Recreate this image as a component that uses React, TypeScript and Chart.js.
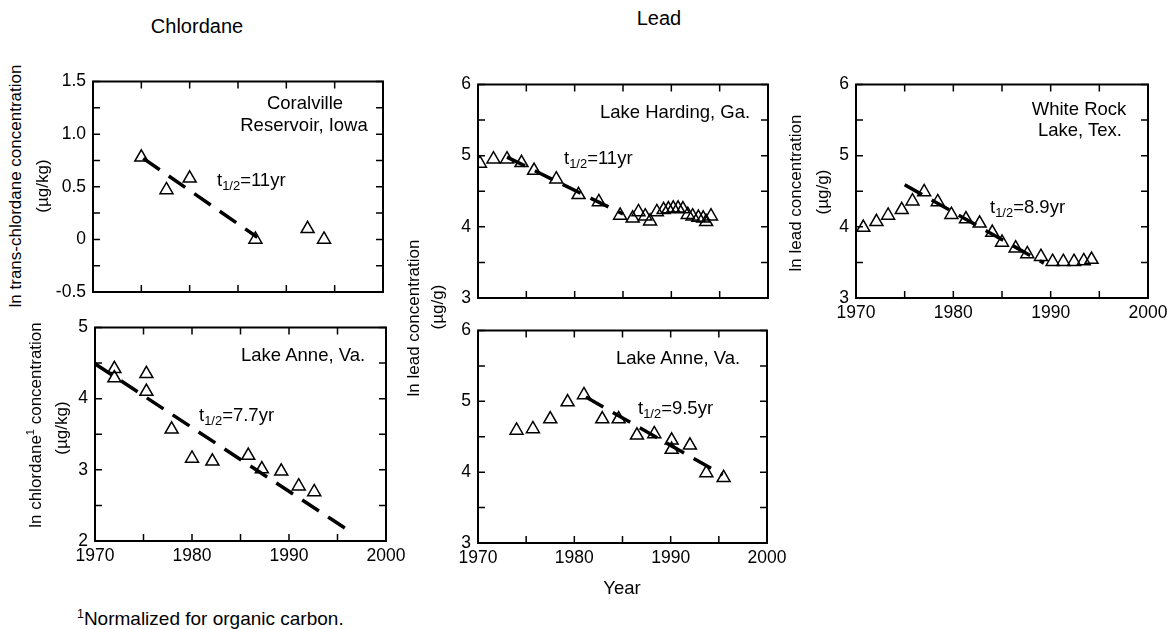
import React, { useEffect, useRef } from 'react';
import { Chart, registerables } from 'chart.js';

Chart.register(...registerables);

const FONT = '"Liberation Sans", Arial, Helvetica, sans-serif';

// ---- Chlordane: Coralville Reservoir, Iowa ----
const coralYears = [1975.0, 1977.6, 1980.0, 1986.8, 1992.2, 1993.9];
const coralValues = [0.78, 0.47, 0.58, 0.0, 0.1, 0.0];
const coralTrendYears = [1975.2, 1987.0];
const coralTrendValues = [0.77, 0.02];

// ---- Chlordane: Lake Anne, Va. ----
const anneChlYears = [1972.0, 1972.0, 1975.3, 1975.3, 1977.9, 1980.0, 1982.1, 1985.8, 1987.2, 1989.2, 1991.0, 1992.6];
const anneChlValues = [4.42, 4.29, 4.35, 4.1, 3.57, 3.16, 3.12, 3.2, 3.01, 2.98, 2.77, 2.69];
const anneChlTrendYears = [1970.0, 1996.0];
const anneChlTrendValues = [4.49, 2.16];

// ---- Lead: Lake Harding, Ga. ----
const hardingYears = [1970.2, 1971.6, 1973.0, 1974.5, 1975.8, 1978.1, 1980.4, 1982.5, 1984.7, 1986.0, 1986.6, 1987.3, 1987.8, 1988.5, 1989.2, 1989.7, 1990.2, 1990.7, 1991.2, 1991.7, 1992.2, 1992.8, 1993.3, 1993.6, 1994.1];
const hardingValues = [4.89, 4.95, 4.95, 4.9, 4.79, 4.67, 4.45, 4.35, 4.16, 4.12, 4.21, 4.15, 4.08, 4.21, 4.24, 4.25, 4.26, 4.26, 4.25, 4.17, 4.15, 4.13, 4.12, 4.07, 4.15];
const hardingTrendYears = [1973.0, 1985.0];
const hardingTrendValues = [4.98, 4.18];

// ---- Lead: Lake Anne, Va. ----
const anneLeadYears = [1974.0, 1975.7, 1977.5, 1979.3, 1981.0, 1982.9, 1984.6, 1986.5, 1988.3, 1990.1, 1990.1, 1992.0, 1993.7, 1995.5];
const anneLeadValues = [4.59, 4.61, 4.75, 4.99, 5.09, 4.75, 4.75, 4.52, 4.54, 4.45, 4.32, 4.38, 3.99, 3.92];
const anneLeadTrendYears = [1981.2, 1995.4];
const anneLeadTrendValues = [5.06, 3.96];

// ---- Lead: White Rock Lake, Tex. ----
const whiteRockYears = [1970.75, 1972.1, 1973.3, 1974.7, 1975.8, 1977.0, 1978.4, 1979.8, 1981.3, 1982.7, 1984.0, 1985.0, 1986.4, 1987.6, 1989.0, 1990.2, 1991.3, 1992.4, 1993.4, 1994.2];
const whiteRockValues = [3.99, 4.07, 4.16, 4.24, 4.36, 4.49, 4.35, 4.17, 4.11, 4.05, 3.92, 3.78, 3.7, 3.62, 3.58, 3.51, 3.51, 3.51, 3.52, 3.54];
const whiteRockTrendYears = [1975.0, 1989.3];
const whiteRockTrendValues = [4.59, 3.49];

// ---- Axis ticks ----
const yearLabelTicks = [1970, 1980, 1990, 2000];
const yearTickMarks = [1970, 1975, 1980, 1985, 1990, 1995, 2000];
const chlTopLabelTicks = [-0.5, 0, 0.5, 1.0, 1.5];
const chlTopTickMarks = [-0.5, -0.25, 0, 0.25, 0.5, 0.75, 1.0, 1.25, 1.5];
const chlBottomLabelTicks = [2, 3, 4, 5];
const chlBottomTickMarks = [2, 2.5, 3, 3.5, 4, 4.5, 5];
const leadLabelTicks = [3, 4, 5, 6];
const leadTickMarks = [3, 3.5, 4, 4.5, 5, 5.5, 6];

const YW = 50;
const PT = 15;
const PR = 30;
const XH = 30;
const PB = 4;
const TICK_LEN = 7;

const framePlugin = {
  id: 'frame',
  afterDatasetsDraw(chart: any, _args: any, opts: any) {
    const { ctx, chartArea: a, scales } = chart;
    const xs = scales.x;
    const ys = scales.y;
    ctx.save();
    ctx.strokeStyle = '#000';
    ctx.lineWidth = 1.5;
    ctx.beginPath();
    for (const v of opts.xMarks || []) {
      const px = xs.getPixelForValue(v);
      ctx.moveTo(px, a.bottom);
      ctx.lineTo(px, a.bottom - TICK_LEN);
      ctx.moveTo(px, a.top);
      ctx.lineTo(px, a.top + TICK_LEN);
    }
    for (const v of opts.yMarks || []) {
      const py = ys.getPixelForValue(v);
      ctx.moveTo(a.left, py);
      ctx.lineTo(a.left + TICK_LEN, py);
      ctx.moveTo(a.right, py);
      ctx.lineTo(a.right - TICK_LEN, py);
    }
    ctx.stroke();
    ctx.lineWidth = 2;
    ctx.strokeRect(a.left, a.top, a.right - a.left, a.bottom - a.top);
    ctx.restore();
  },
};

type PanelProps = {
  left: number;
  top: number;
  width: number;
  height: number;
  years: number[];
  values: number[];
  trendYears: number[];
  trendValues: number[];
  yMin: number;
  yMax: number;
  yLabels: number[];
  yMarks: number[];
  showX: boolean;
  decimals: boolean;
};

function Panel(p: PanelProps) {
  const ref = useRef<HTMLCanvasElement | null>(null);
  const cw = p.width + YW + PR;
  const ch = p.height + PT + XH + PB;

  useEffect(() => {
    if (!ref.current) return;
    const tickFont = { family: FONT, size: 17.5 };
    const chart = new Chart(ref.current, {
      type: 'scatter',
      data: {
        datasets: [
          {
            type: 'line',
            data: p.trendYears.map((x, i) => ({ x, y: p.trendValues[i] })),
            borderColor: '#000',
            borderWidth: 3.5,
            borderDash: [20, 11],
            pointRadius: 0,
            fill: false,
            tension: 0,
          } as any,
          {
            type: 'scatter',
            data: p.years.map((x, i) => ({ x, y: p.values[i] })),
            pointStyle: 'triangle',
            pointRadius: 7.5,
            pointHoverRadius: 7.5,
            borderColor: '#000',
            backgroundColor: 'rgba(0,0,0,0)',
            borderWidth: 1.5,
          } as any,
        ],
      },
      options: {
        responsive: false,
        animation: false,
        devicePixelRatio: 1,
        events: [],
        layout: { padding: { left: 0, top: PT, right: PR, bottom: PB } },
        plugins: {
          legend: { display: false },
          tooltip: { enabled: false },
          frame: { xMarks: yearTickMarks, yMarks: p.yMarks },
        } as any,
        scales: {
          x: {
            type: 'linear',
            min: 1970,
            max: 2000,
            grid: { display: false, drawTicks: false },
            border: { display: false },
            afterBuildTicks: (s: any) => {
              s.ticks = yearLabelTicks.map((v) => ({ value: v }));
            },
            afterFit: (s: any) => {
              s.height = XH;
            },
            ticks: {
              display: p.showX,
              padding: 5,
              font: tickFont,
              color: '#000',
              maxRotation: 0,
              autoSkip: false,
              callback: (v: any) => String(v),
            },
          },
          y: {
            type: 'linear',
            min: p.yMin,
            max: p.yMax,
            grid: { display: false, drawTicks: false },
            border: { display: false },
            afterBuildTicks: (s: any) => {
              s.ticks = p.yLabels.map((v) => ({ value: v }));
            },
            afterFit: (s: any) => {
              s.width = YW;
            },
            ticks: {
              padding: 7,
              font: tickFont,
              color: '#000',
              autoSkip: false,
              callback: (v: any) => (p.decimals ? (v === 0 ? '0' : Number(v).toFixed(1)) : String(v)),
            },
          },
        },
      },
      plugins: [framePlugin as any],
    });
    return () => chart.destroy();
  }, []);

  return (
    <canvas
      ref={ref}
      width={cw}
      height={ch}
      style={{ position: 'absolute', left: p.left - YW, top: p.top - PT, width: cw, height: ch }}
    />
  );
}

function Txt(props: { x: number; y: number; size: number; center?: boolean; children: any }) {
  const { x, y, size, center, children } = props;
  return (
    <div
      style={{
        position: 'absolute',
        left: x,
        top: y - 0.5 * size,
        fontSize: size,
        lineHeight: 1,
        whiteSpace: 'nowrap',
        transform: center ? 'translateX(-50%)' : undefined,
      }}
    >
      {children}
    </div>
  );
}

function VTxt(props: { x: number; y: number; size: number; children: any }) {
  const { x, y, size, children } = props;
  return (
    <div
      style={{
        position: 'absolute',
        left: x,
        top: y,
        fontSize: size,
        lineHeight: 1,
        whiteSpace: 'nowrap',
        transform: 'translate(-50%, -50%) rotate(-90deg)',
      }}
    >
      {children}
    </div>
  );
}

function Half(props: { rest: string }) {
  return (
    <>
      t<span style={{ fontSize: '0.7em', verticalAlign: '-0.3em', lineHeight: 0 }}>1/2</span>
      {props.rest}
    </>
  );
}

export default function App() {
  const ann = 18.5;
  const ax = 17;
  return (
    <div
      style={{
        position: 'absolute',
        left: 0,
        top: 0,
        width: 1169,
        height: 629,
        background: '#fff',
        color: '#000',
        fontFamily: FONT,
        overflow: 'hidden',
      }}
    >
      <Panel left={93} top={79} width={290} height={213} years={coralYears} values={coralValues}
        trendYears={coralTrendYears} trendValues={coralTrendValues} yMin={-0.5} yMax={1.5}
        yLabels={chlTopLabelTicks} yMarks={chlTopTickMarks} showX={false} decimals={true} />
      <Panel left={95} top={325} width={291} height={216} years={anneChlYears} values={anneChlValues}
        trendYears={anneChlTrendYears} trendValues={anneChlTrendValues} yMin={2} yMax={5}
        yLabels={chlBottomLabelTicks} yMarks={chlBottomTickMarks} showX={true} decimals={false} />
      <Panel left={478} top={82} width={290} height={216} years={hardingYears} values={hardingValues}
        trendYears={hardingTrendYears} trendValues={hardingTrendValues} yMin={3} yMax={6}
        yLabels={leadLabelTicks} yMarks={leadTickMarks} showX={false} decimals={false} />
      <Panel left={478} top={328} width={289} height={215} years={anneLeadYears} values={anneLeadValues}
        trendYears={anneLeadTrendYears} trendValues={anneLeadTrendValues} yMin={3} yMax={6}
        yLabels={leadLabelTicks} yMarks={leadTickMarks} showX={true} decimals={false} />
      <Panel left={856} top={82} width={292} height={216} years={whiteRockYears} values={whiteRockValues}
        trendYears={whiteRockTrendYears} trendValues={whiteRockTrendValues} yMin={3} yMax={6}
        yLabels={leadLabelTicks} yMarks={leadTickMarks} showX={true} decimals={false} />

      <Txt x={197} y={26} size={20} center>Chlordane</Txt>
      <Txt x={659} y={18} size={20} center>Lead</Txt>

      <VTxt x={15} y={186} size={ax}>ln trans-chlordane concentration</VTxt>
      <VTxt x={42} y={186} size={ax}>(µg/kg)</VTxt>
      <VTxt x={35} y={425} size={ax}>
        ln chlordane<sup style={{ fontSize: '0.65em', lineHeight: 0 }}>1</sup> concentration
      </VTxt>
      <VTxt x={61} y={428} size={ax}>(µg/kg)</VTxt>
      <VTxt x={413} y={318} size={ax}>ln lead concentration</VTxt>
      <VTxt x={437} y={307} size={ax}>(µg/g)</VTxt>
      <VTxt x={795} y={193} size={ax}>ln lead concentration</VTxt>
      <VTxt x={822} y={192} size={ax}>(µg/g)</VTxt>

      <Txt x={305} y={103} size={ann} center>Coralville</Txt>
      <Txt x={304} y={125} size={ann} center>Reservoir, Iowa</Txt>
      <Txt x={217} y={180} size={ann}><Half rest="=11yr" /></Txt>

      <Txt x={241} y={355} size={ann}>Lake Anne, Va.</Txt>
      <Txt x={199} y={415} size={ann}><Half rest="=7.7yr" /></Txt>

      <Txt x={600} y={112} size={ann}>Lake Harding, Ga.</Txt>
      <Txt x={564} y={158} size={ann}><Half rest="=11yr" /></Txt>

      <Txt x={616} y={358} size={ann}>Lake Anne, Va.</Txt>
      <Txt x={638} y={408} size={ann}><Half rest="=9.5yr" /></Txt>

      <Txt x={1079} y={109} size={ann} center>White Rock</Txt>
      <Txt x={1080} y={130} size={ann} center>Lake, Tex.</Txt>
      <Txt x={990} y={207} size={ann}><Half rest="=8.9yr" /></Txt>

      <Txt x={622} y={588} size={ann} center>Year</Txt>
      <Txt x={77} y={618} size={19}>
        <sup style={{ fontSize: '0.65em', lineHeight: 0 }}>1</sup>Normalized for organic carbon.
      </Txt>
    </div>
  );
}
